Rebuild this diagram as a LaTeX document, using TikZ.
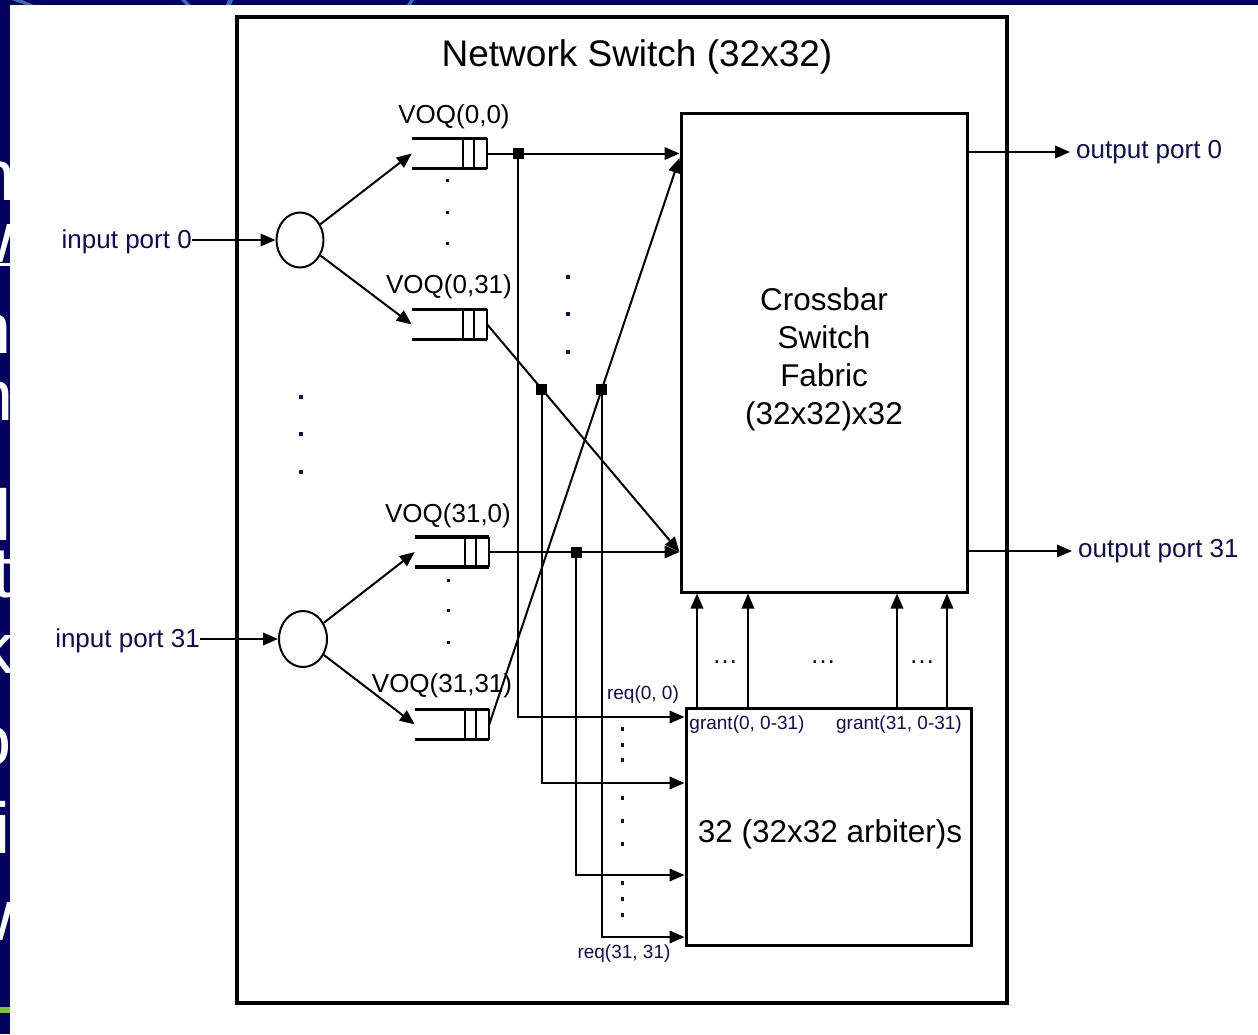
\documentclass[tikz,border=0pt]{standalone}
\usepackage{fontspec}
\setmainfont{Liberation Sans}
\usetikzlibrary{arrows.meta,shapes.geometric,calc}
\definecolor{bgnavy}{HTML}{03035F}
\definecolor{txtnavy}{HTML}{0D0D50}
\definecolor{arcblue}{HTML}{3A6EB0}
\definecolor{slidegreen}{HTML}{7CC242}
\tikzset{
 conn/.style={line width=2pt},
 arr/.style={conn,-{Triangle[length=15pt,width=12.5pt]}},
 junc/.style={fill=black, rectangle, minimum size=11pt, inner sep=0pt},
 voqbox/.style={rectangle, inner sep=0pt, minimum width=75pt, minimum height=30pt},
 qedge/.style={line width=3.5pt},
 qbar/.style={line width=2pt},
 navydot/.style={fill=txtnavy, rectangle, minimum size=4.5pt, inner sep=0pt},
 reqdot/.style={fill=txtnavy, rectangle, minimum size=3.5pt, inner sep=0pt},
 qdot/.style={fill=black, rectangle, minimum size=3pt, inner sep=0pt},
 porttxt/.style={text=txtnavy, font=\fontsize{26}{30}\selectfont, inner sep=0pt},
 voqtxt/.style={font=\fontsize{26}{30}\selectfont, inner sep=0pt},
 smalltxt/.style={text=txtnavy, font=\fontsize{19}{22}\selectfont, inner sep=0pt},
 bigtxt/.style={font=\fontsize{31.5}{38}\selectfont, inner sep=0pt},
 frag/.style={text=white, font=\fontsize{72}{80}\selectfont, inner sep=0pt, anchor=base east},
 ellnode/.style={draw, ellipse, line width=2pt, inner sep=0pt},
}
\begin{document}
\begin{tikzpicture}[x=1pt,y=-1pt]
\useasboundingbox (0,0) rectangle (1258,1034);
% slide background
\fill[bgnavy] (0,0) rectangle (1258,1034);
\begin{scope}
\clip (0,0) rectangle (10,1034);
\node[frag] (f1) at (16,200) {h};
\node[frag] (f2) at (14,262) {w};
\node[frag] (f3) at (12,353) {h};
\node[frag] (f4) at (14,420) {n};
\node[frag] (f5) at (12,540) {l};
\node[frag] (f6) at (13,597) {t};
\node[frag] (f7) at (14,673) {k};
\node[frag] (f8) at (12,765) {o};
\node[frag] (f9) at (11,853) {i};
\node[frag] (f10) at (14,940) {w};
\fill[white] (0,263) rectangle (10,265.5);
\end{scope}
\fill[arcblue] (12,0) -- (22,0) -- (34,5) -- (26,5) -- cycle;
\fill[arcblue] (181,0) -- (186,0) -- (191,5) -- (186,5) -- cycle;
\fill[arcblue] (228,0) -- (233,0) -- (231,5) -- (226,5) -- cycle;
\fill[arcblue] (410,0) -- (414,0) -- (411,5) -- (407,5) -- cycle;
\fill[slidegreen] (0,1007) rectangle (10,1013);
\fill[white] (10,5) rectangle (1258,1034);

% outer switch box
\node[draw, line width=4pt, rectangle, inner sep=0pt, minimum width=770pt, minimum height=986pt] (sw) at (622,510) {};
\node[font=\fontsize{37}{40}\selectfont, inner sep=0pt] (title) at (637,57) {Network Switch (32x32)};

% main blocks
\node[draw, line width=3pt, rectangle, inner sep=0pt, minimum width=286pt, minimum height=479pt] (xb) at (824,352.5) {};
\node[bigtxt, align=center] (xbt) at (824,359) {Crossbar\\Switch\\ Fabric\\(32x32)x32};
\node[draw, line width=3pt, rectangle, inner sep=0pt, minimum width=285pt, minimum height=237pt] (arb) at (828.5,826.5) {};
\node[bigtxt] (arbt) at (830,834) {32 (32x32 arbiter)s};

% input ports and demultiplexers
\node[porttxt, anchor=east] (i0) at (192,242) {input port 0};
\node[porttxt, anchor=east] (i31) at (200,641) {input port 31};
\node[ellnode, minimum width=47pt, minimum height=55pt] (e0) at (300,240) {};
\node[ellnode, minimum width=48pt, minimum height=56pt] (e31) at (303,639) {};

% VOQs
\node[voqbox] (q00) at (449.5,153.5) {};
\node[voqbox] (q031) at (449.5,324.5) {};
\node[voqbox, minimum width=74pt] (q310) at (452,552) {};
\node[voqbox, minimum width=74pt] (q3131) at (452,724.5) {};
\foreach \q in {q00,q031,q310,q3131} {
  \draw[qedge] (\q.north west) -- (\q.north east);
  \draw[qedge] (\q.south west) -- (\q.south east);
  \draw[qbar] (\q.north east) -- (\q.south east);
  \draw[qbar] ([xshift=-24pt]\q.north east) -- ([xshift=-24pt]\q.south east);
  \draw[qbar] ([xshift=-13pt]\q.north east) -- ([xshift=-13pt]\q.south east);
}
\node[voqtxt] (l00) at (454,117) {VOQ(0,0)};
\node[voqtxt] (l031) at (449,287) {VOQ(0,31)};
\node[voqtxt] (l310) at (448,516) {VOQ(31,0)};
\node[voqtxt] (l3131) at (442,686) {VOQ(31,31)};

% output ports
\node[porttxt, anchor=west] (o0) at (1076,152) {output port 0};
\node[porttxt, anchor=west] (o31) at (1078,551) {output port 31};

% helper levels
\coordinate (L31) at (0,552);
\coordinate (LT) at (0,158);
\coordinate (L1) at (0,717);
\coordinate (L2) at (0,783);
\coordinate (L3) at (0,875);
\coordinate (L4) at (0,937);
\coordinate (G1) at (697,0);
\coordinate (G2) at (748,0);
\coordinate (G3) at (897,0);
\coordinate (G4) at (947,0);

% junctions
\node[junc] (j1) at (518,153.5) {};
\node[junc] (j2) at ($(q031.east)!0.2835!(xb.west |- L31)$) {};
\node[junc] (j3) at ($(q3131.east)!0.5922!(xb.west |- LT)$) {};
\node[junc] (j4) at (576,552) {};

% connectors
\draw[arr] (i0.east |- e0.west) -- (e0.west);
\draw[arr] (i31.east |- e31.west) -- (e31.west);
\draw[arr] (e0) -- (q00.west);
\draw[arr] (e0) -- (q031.west);
\draw[arr] (e31) -- (q310.west);
\draw[arr] (e31) -- (q3131.west);
\draw[arr] (q00.east) -- (xb.west |- q00.east);
\draw[arr] (q310.east) -- (xb.west |- q310.east);
\draw[arr] (q031.east) -- (xb.west |- L31);
\draw[arr] (q3131.east) -- (xb.west |- LT);
\draw[arr] (j1.center) |- (arb.west |- L1);
\draw[arr] (j2.center) |- (arb.west |- L2);
\draw[arr] (j4.center) |- (arb.west |- L3);
\draw[arr] (j3.center) |- (arb.west |- L4);
\draw[arr] (arb.north -| G1) -- (xb.south -| G1);
\draw[arr] (arb.north -| G2) -- (xb.south -| G2);
\draw[arr] (arb.north -| G3) -- (xb.south -| G3);
\draw[arr] (arb.north -| G4) -- (xb.south -| G4);
\draw[arr] (xb.east |- o0.west) -- ([xshift=-6pt]o0.west);
\draw[arr] (xb.east |- o31.west) -- ([xshift=-6pt]o31.west);

% labels
\node[smalltxt] (req00) at (643,695) {req(0, 0)};
\node[smalltxt] (req3131) at (624,954) {req(31, 31)};
\node[smalltxt] (g0) at (747,725) {grant(0, 0-31)};
\node[smalltxt] (g31) at (899,725) {grant(31, 0-31)};
\node[porttxt] (el1) at (725,662) {…};
\node[porttxt] (el2) at (823,662) {…};
\node[porttxt] (el3) at (922,662) {…};

% dots
\foreach \y [count=\i] in {397,434,472} {\node[navydot] (ld\i) at (301,\y) {};}
\foreach \y [count=\i] in {277,314,352} {\node[navydot] (md\i) at (568,\y) {};}
\foreach \y [count=\i] in {180,212,243} {\node[qdot] (qa\i) at (447,\y) {};}
\foreach \y [count=\i] in {580,610,642} {\node[qdot] (qb\i) at (448,\y) {};}
\foreach \y [count=\i] in {729,745,760,798,821,844,883,899,915} {\node[reqdot] (rd\i) at (622.5,\y) {};}
\end{tikzpicture}
\end{document}
